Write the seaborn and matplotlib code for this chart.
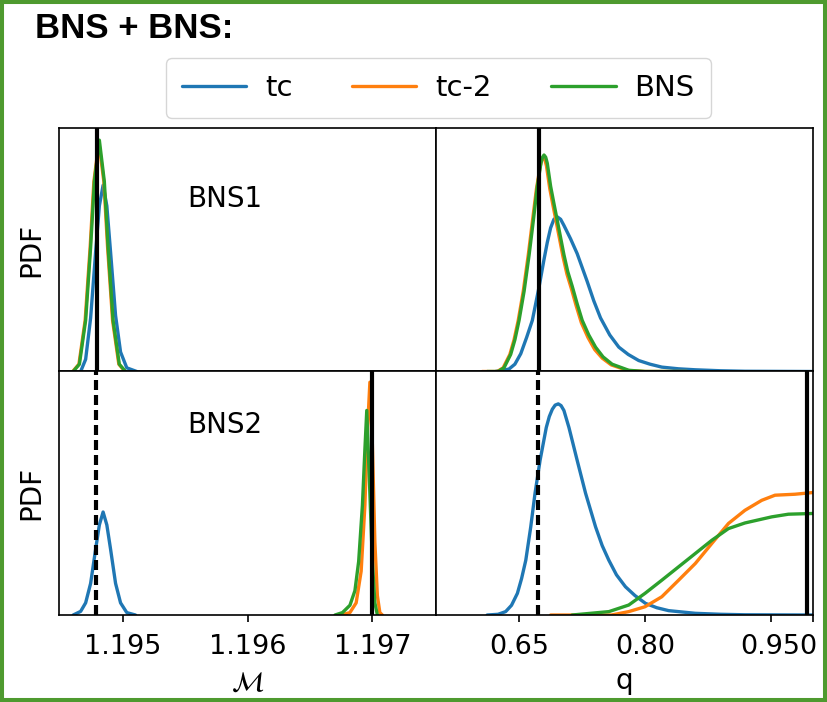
import pandas as pd
import seaborn as sns
import matplotlib.pyplot as plt
from matplotlib.patches import Rectangle
from matplotlib.transforms import ScaledTranslation

runs = ['tc', 'tc-2', 'BNS']
palette = {'tc': '#1f77b4', 'tc-2': '#ff7f0e', 'BNS': '#2ca02c'}

# BNS1 - chirp mass (curve heights are fractions of the panel height)
mc1_tc_x = [1.19466, 1.19470, 1.19474, 1.19478, 1.19481, 1.19484, 1.19487, 1.19490, 1.19494, 1.19498, 1.19503, 1.19511]
mc1_tc_y = [0.0, 0.05, 0.22, 0.49, 0.68, 0.765, 0.68, 0.49, 0.23, 0.08, 0.015, 0.0]
mc1_tc2_x = [1.194596, 1.194646, 1.194696, 1.194736, 1.194766, 1.194806, 1.194846, 1.194876, 1.194916, 1.194966, 1.195016]
mc1_tc2_y = [0.0, 0.03, 0.21, 0.51, 0.78, 0.94, 0.78, 0.51, 0.21, 0.03, 0.0]
mc1_bns_x = [1.19460, 1.19465, 1.19470, 1.19474, 1.19477, 1.19481, 1.19485, 1.19488, 1.19492, 1.19497, 1.19502]
mc1_bns_y = [0.0, 0.03, 0.21, 0.51, 0.78, 0.95, 0.78, 0.51, 0.21, 0.03, 0.0]

# BNS1 - mass ratio
q1_tc_x = [0.622, 0.638, 0.645, 0.652, 0.659, 0.6658, 0.6738, 0.6797, 0.6836, 0.6876, 0.6915, 0.6955,
           0.6995, 0.7034, 0.7113, 0.7192, 0.7311, 0.739, 0.747, 0.758, 0.7688, 0.780, 0.7925,
           0.806, 0.820, 0.840, 0.860, 0.890, 0.919, 1.0]
q1_tc_y = [0.0, 0.01, 0.03, 0.073, 0.14, 0.21, 0.347, 0.46, 0.53, 0.59, 0.625, 0.635,
           0.625, 0.60, 0.545, 0.484, 0.37, 0.29, 0.22, 0.15, 0.10, 0.07, 0.045,
           0.03, 0.018, 0.011, 0.007, 0.003, 0.001, 0.0]
q1_tc2_x = [0.606, 0.624, 0.631, 0.639, 0.644, 0.649, 0.655, 0.661, 0.666, 0.6707, 0.675, 0.677,
            0.6787, 0.6807, 0.6826, 0.6866, 0.6905, 0.6945, 0.7024, 0.707, 0.7123, 0.718,
            0.7242, 0.732, 0.7401, 0.749, 0.7598, 0.7796, 0.80, 0.85]
q1_tc2_y = [0.0, 0.0, 0.015, 0.07, 0.13, 0.21, 0.33, 0.48, 0.62, 0.75, 0.84, 0.87,
            0.88, 0.87, 0.845, 0.75, 0.68, 0.61, 0.47, 0.40, 0.34, 0.27,
            0.20, 0.14, 0.09, 0.055, 0.027, 0.004, 0.0, 0.0]
q1_bns_x = [0.612, 0.625, 0.632, 0.640, 0.645, 0.650, 0.656, 0.662, 0.667, 0.6717, 0.676, 0.678,
            0.6797, 0.6817, 0.6836, 0.6876, 0.6915, 0.6955, 0.7034, 0.708, 0.7133, 0.719,
            0.7252, 0.733, 0.7411, 0.750, 0.7608, 0.7806, 0.80, 0.85]
q1_bns_y = [0.0, 0.0, 0.015, 0.07, 0.13, 0.21, 0.33, 0.48, 0.62, 0.76, 0.855, 0.88,
            0.889, 0.88, 0.855, 0.76, 0.69, 0.62, 0.48, 0.41, 0.35, 0.28,
            0.21, 0.15, 0.10, 0.06, 0.03, 0.005, 0.0, 0.0]

# BNS2 - chirp mass
mc2_tc_x = [1.19460, 1.19466, 1.19470, 1.19474, 1.19478, 1.19481, 1.19484, 1.19487, 1.19490, 1.19494,
            1.19498, 1.19503, 1.19510]
mc2_tc_y = [0.0, 0.015, 0.05, 0.13, 0.27, 0.37, 0.423, 0.37, 0.27, 0.13, 0.05, 0.01, 0.0]
mc2_tc2_x = [1.19675, 1.19682, 1.19687, 1.19691, 1.19694, 1.19696, 1.19698, 1.19700, 1.19702, 1.19704,
             1.19706, 1.19708]
mc2_tc2_y = [0.0, 0.01, 0.05, 0.18, 0.45, 0.75, 0.956, 0.70, 0.30, 0.08, 0.01, 0.0]
mc2_bns_x = [1.19670, 1.19676, 1.19682, 1.19686, 1.19689, 1.19692, 1.19694, 1.196955, 1.19698, 1.19700,
             1.19702, 1.19704]
mc2_bns_y = [0.0, 0.01, 0.04, 0.10, 0.22, 0.45, 0.68, 0.84, 0.50, 0.22, 0.05, 0.0]

# BNS2 - mass ratio
q2_tc_x = [0.612, 0.625, 0.634, 0.641, 0.648, 0.653, 0.658, 0.6639, 0.669, 0.675, 0.6824, 0.686,
           0.6896, 0.693, 0.6967, 0.700, 0.7034, 0.7094, 0.7192, 0.7292, 0.7411, 0.749, 0.7569,
           0.766, 0.7767, 0.788, 0.8005, 0.814, 0.8281, 0.86, 0.89, 0.919, 1.0]
q2_tc_y = [0.0, 0.003, 0.014, 0.04, 0.089, 0.15, 0.225, 0.362, 0.5, 0.635, 0.77, 0.815,
           0.845, 0.862, 0.867, 0.86, 0.84, 0.77, 0.635, 0.5, 0.362, 0.285, 0.225,
           0.165, 0.116, 0.08, 0.048, 0.03, 0.018, 0.007, 0.003, 0.001, 0.0]
q2_tc2_x = [0.6876, 0.76, 0.7806, 0.80, 0.82, 0.84, 0.86, 0.8796, 0.8994, 0.919, 0.939, 0.9548, 0.9786, 1.0]
q2_tc2_y = [0.0, 0.0, 0.014, 0.034, 0.075, 0.143, 0.212, 0.294, 0.376, 0.43, 0.471, 0.492, 0.496, 0.503]
q2_bns_x = [0.713, 0.757, 0.7806, 0.80, 0.82, 0.84, 0.86, 0.8796, 0.8994, 0.919, 0.9508, 0.9707, 1.0]
q2_bns_y = [0.0, 0.014, 0.041, 0.089, 0.143, 0.198, 0.253, 0.307, 0.355, 0.378, 0.403, 0.414, 0.417]

# injected values
mc1_true = 1.19479
q1_true = 0.6738
mc2_true = 1.197
q2_true = 0.9924
mc_ref = 1.19478
q_ref = 0.673

mc_ticks = [1.195, 1.196, 1.197]
mc_ticklabels = ['1.195', '1.196', '1.197']
q_ticks = [0.65, 0.80, 0.95, 1.0]
q_ticklabels = ['0.65', '0.80', '0.950', '']


def panel_df(curves):
    frames = []
    for run, (xs, ys) in zip(runs, curves):
        frames.append(pd.DataFrame({'x': xs, 'pdf': ys, 'run': run}))
    return pd.concat(frames, ignore_index=True)


sns.set_style('ticks', {'axes.edgecolor': 'black', 'text.color': 'black',
                        'axes.labelcolor': 'black', 'xtick.color': 'black'})
plt.rcParams['font.family'] = 'DejaVu Sans'

fig, axes = plt.subplots(2, 2, figsize=(8.27, 7.02), dpi=100,
                         gridspec_kw=dict(hspace=0, wspace=0))
fig.subplots_adjust(left=0.0713, right=0.983, top=0.8177, bottom=0.1239)

panels = [
    (axes[0, 0], [(mc1_tc_x, mc1_tc_y), (mc1_tc2_x, mc1_tc2_y), (mc1_bns_x, mc1_bns_y)]),
    (axes[0, 1], [(q1_tc_x, q1_tc_y), (q1_tc2_x, q1_tc2_y), (q1_bns_x, q1_bns_y)]),
    (axes[1, 0], [(mc2_tc_x, mc2_tc_y), (mc2_tc2_x, mc2_tc2_y), (mc2_bns_x, mc2_bns_y)]),
    (axes[1, 1], [(q2_tc_x, q2_tc_y), (q2_tc2_x, q2_tc2_y), (q2_bns_x, q2_bns_y)]),
]
for ax, curves in panels:
    sns.lineplot(data=panel_df(curves), x='x', y='pdf', hue='run', hue_order=runs,
                 palette=palette, estimator=None, sort=False, linewidth=2.4, ax=ax)
    ax.set_ylim(0, 1)
    ax.set_yticks([])
    ax.set_xlabel('')
    ax.set_ylabel('')
    for s in ax.spines.values():
        s.set_linewidth(1.2)
    ax.tick_params(axis='x', labelsize=19.5, length=5, width=1.2, pad=9, colors='black')

handles, labels = axes[0, 0].get_legend_handles_labels()
for ax, _ in panels:
    ax.get_legend().remove()

dash = (0, (2.4, 1.2))
axes[0, 0].axvline(mc1_true, color='black', lw=3)
axes[0, 1].axvline(q1_true, color='black', lw=3)
axes[1, 0].axvline(mc_ref, color='black', lw=3, ls=dash)
axes[1, 0].axvline(mc2_true, color='black', lw=3)
axes[1, 1].axvline(q_ref, color='black', lw=3, ls=dash)
axes[1, 1].axvline(q2_true, color='black', lw=3)

for ax in axes[:, 0]:
    ax.set_xlim(1.194486, 1.19751)
    ax.set_xticks(mc_ticks)
    ax.set_xticklabels(mc_ticklabels)
    ax.set_ylabel('PDF', fontsize=20, labelpad=10)
for ax in axes[:, 1]:
    ax.set_xlim(0.551, 1.0)
    ax.set_xticks(q_ticks)
    ax.set_xticklabels(q_ticklabels)
for ax in axes[0, :]:
    ax.tick_params(axis='x', bottom=False, labelbottom=False)

lbl = axes[1, 1].get_xticklabels()[2]
lbl.set_transform(lbl.get_transform() + ScaledTranslation(8 / 100, 0, fig.dpi_scale_trans))

axes[1, 0].set_xlabel(r'$\mathcal{M}$', fontsize=20, labelpad=6)
axes[1, 1].set_xlabel('q', fontsize=20, labelpad=5)

axes[0, 0].text(0.44, 0.71, 'BNS1', transform=axes[0, 0].transAxes,
                ha='center', va='center', fontsize=20)
axes[1, 0].text(0.44, 0.78, 'BNS2', transform=axes[1, 0].transAxes,
                ha='center', va='center', fontsize=20)

fig.legend(handles, labels, loc='upper center', bbox_to_anchor=(0.530, 0.938), ncol=3,
           fontsize=21, frameon=True, fancybox=True, edgecolor='#cccccc',
           handlelength=2.2, columnspacing=2.05, handletextpad=0.65, borderpad=0.55)

fig.text(35 / 827, 1 - 28 / 702, 'BNS + BNS:', fontsize=25, fontweight='bold',
         family='Liberation Sans', va='center', ha='left', color='black')

fig.patches.append(Rectangle((0, 0), 1, 1, transform=fig.transFigure, fill=False,
                             edgecolor='#4e9a2f', linewidth=5.8, zorder=10))

fig.savefig('out.png', dpi=100)
